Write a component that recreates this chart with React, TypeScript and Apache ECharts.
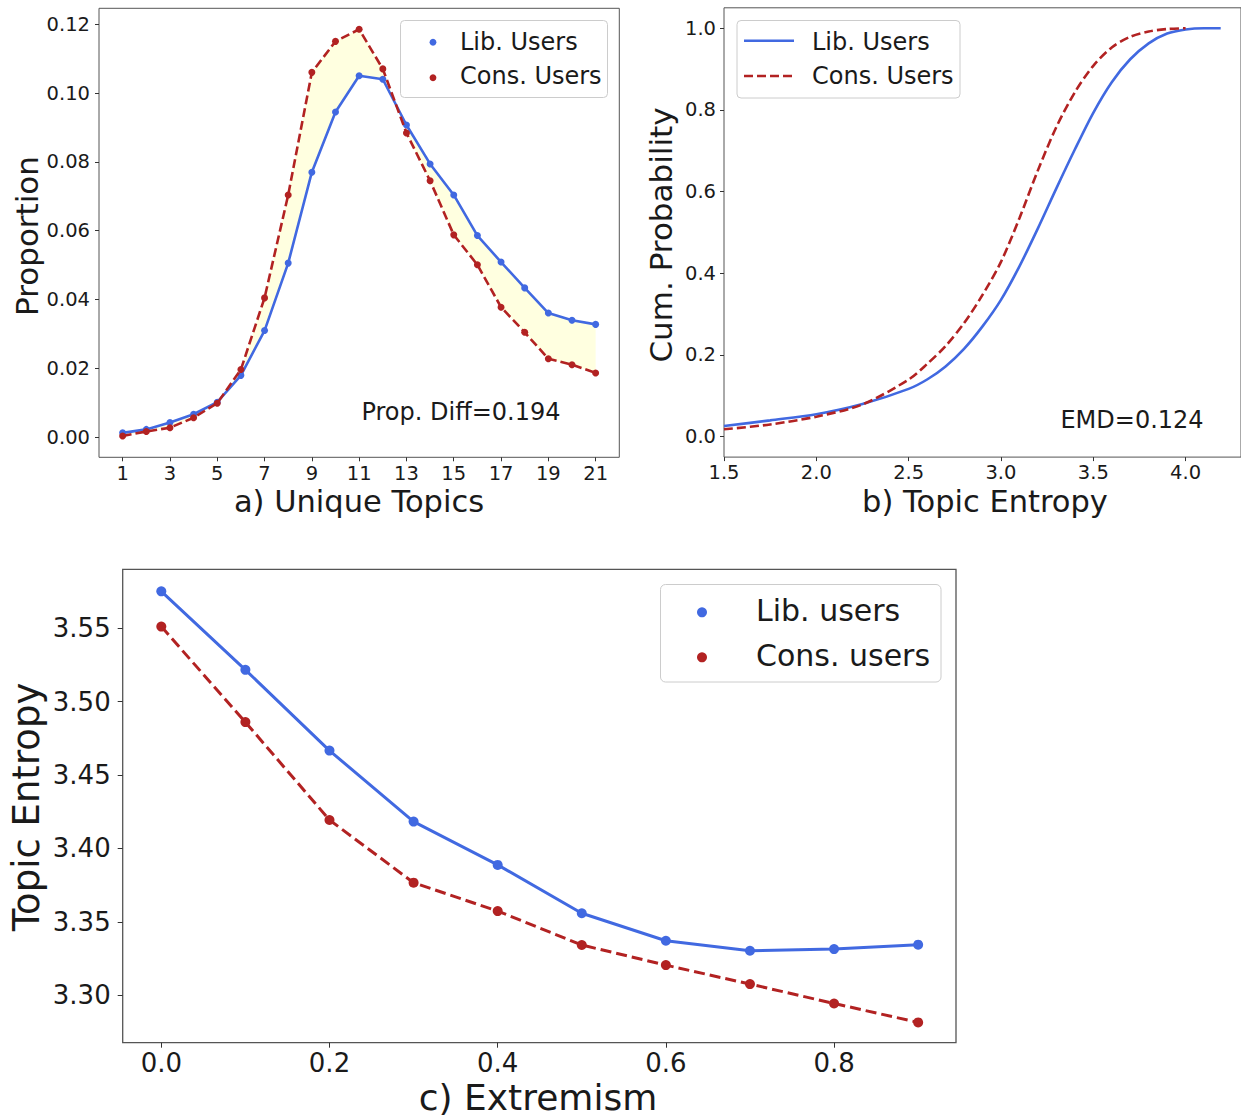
import React, { useEffect, useRef } from "react";
import * as echarts from "echarts";

// ---------- data ----------
const topicsX = [1, 2, 3, 4, 5, 6, 7, 8, 9, 10, 11, 12, 13, 14, 15, 16, 17, 18, 19, 20, 21];
const libUnique = [0.0013, 0.0023, 0.0043, 0.0067, 0.0102, 0.018, 0.031, 0.0506, 0.077, 0.0945, 0.105, 0.104, 0.0907, 0.0794, 0.0704, 0.0586, 0.0509, 0.0434, 0.0361, 0.034, 0.0328];
const consUnique = [0.0004, 0.0017, 0.0028, 0.0057, 0.0099, 0.0197, 0.0405, 0.0704, 0.106, 0.115, 0.1185, 0.107, 0.0884, 0.0745, 0.0588, 0.0501, 0.0378, 0.0305, 0.0228, 0.0211, 0.0187];

const libEntropyX = [1.5, 1.75, 2.0, 2.25, 2.5, 2.6, 2.7, 2.8, 2.9, 3.0, 3.1, 3.2, 3.3, 3.4, 3.5, 3.6, 3.7, 3.8, 3.9, 4.0, 4.1, 4.19];
const libCdf = [0.026, 0.04, 0.055, 0.08, 0.117, 0.14, 0.172, 0.215, 0.27, 0.335, 0.417, 0.51, 0.608, 0.703, 0.793, 0.868, 0.924, 0.963, 0.987, 0.997, 1.0, 1.0];
const consEntropyX = [1.5, 1.75, 2.0, 2.25, 2.5, 2.6, 2.7, 2.8, 2.9, 3.0, 3.1, 3.2, 3.3, 3.4, 3.5, 3.6, 3.7, 3.8, 3.9, 4.0];
const consCdf = [0.018, 0.03, 0.049, 0.079, 0.14, 0.178, 0.222, 0.278, 0.347, 0.428, 0.535, 0.652, 0.758, 0.843, 0.908, 0.953, 0.979, 0.992, 0.998, 1.0];

const extremism = [0.0, 0.1, 0.2, 0.3, 0.4, 0.5, 0.6, 0.7, 0.8, 0.9];
const libEntropy = [3.575, 3.5216, 3.4666, 3.4183, 3.3888, 3.3559, 3.3372, 3.3304, 3.3315, 3.3345];
const consEntropy = [3.551, 3.486, 3.4194, 3.3767, 3.3574, 3.3343, 3.3206, 3.3077, 3.2945, 3.2816];

const xTicksA = [1, 3, 5, 7, 9, 11, 13, 15, 17, 19, 21];
const yTicksA = [0, 0.02, 0.04, 0.06, 0.08, 0.1, 0.12];
const xTicksB = [1.5, 2.0, 2.5, 3.0, 3.5, 4.0];
const yTicksB = [0, 0.2, 0.4, 0.6, 0.8, 1.0];
const xTicksC = [0, 0.2, 0.4, 0.6, 0.8];
const yTicksC = [3.3, 3.35, 3.4, 3.45, 3.5, 3.55];

// ---------- style ----------
const FONT = '"DejaVu Sans", sans-serif';
const BLUE = "#4169E1";
const RED = "#B22222";
const INK = "#1a1a1a";
const FRAME = "#555555";

const zip = (xs: number[], ys: number[]) => xs.map((x, i) => [x, ys[i]]);

function valueAxis(
  gridIndex: number,
  min: number,
  max: number,
  ticks: number[],
  digits: number,
  fontSize: number,
  margin: number,
  tickLen: number
) {
  return {
    type: "value",
    gridIndex,
    min,
    max,
    splitLine: { show: false },
    axisLine: { show: false, onZero: false },
    axisTick: {
      show: true,
      customValues: ticks,
      length: tickLen,
      lineStyle: { color: "#333", width: 1 },
    },
    axisLabel: {
      show: true,
      customValues: ticks,
      formatter: (v: number) => v.toFixed(digits),
      fontFamily: FONT,
      fontSize,
      lineHeight: fontSize,
      color: INK,
      margin,
    },
  };
}

function text(
  str: string,
  x: number,
  y: number,
  fontSize: number,
  align: string = "center",
  rotation = 0
) {
  return {
    type: "text",
    x,
    y,
    rotation,
    z: 100,
    style: {
      text: str,
      fontFamily: FONT,
      fontSize,
      lineHeight: fontSize,
      fill: INK,
      align,
      verticalAlign: "middle",
    },
  };
}

export default function App() {
  const ref = useRef<HTMLDivElement>(null);

  useEffect(() => {
    if (!ref.current) return;
    const chart = echarts.init(ref.current, null, { renderer: "svg" });

    const gridA = { left: 99, top: 8.3, width: 520.3, height: 449 };
    const gridB = { left: 724, top: 7.8, width: 522.5, height: 449.3 };
    const gridC = { left: 122.7, top: 569.3, width: 833.3, height: 473.4 };

    const option: any = {
      animation: false,
      backgroundColor: "#ffffff",
      grid: [
        { ...gridA, show: true, borderColor: FRAME, borderWidth: 1, backgroundColor: "transparent" },
        { ...gridB, show: true, borderColor: FRAME, borderWidth: 1, backgroundColor: "transparent" },
        { ...gridC, show: true, borderColor: FRAME, borderWidth: 1.3, backgroundColor: "transparent" },
      ],
      xAxis: [
        valueAxis(0, 0, 22, xTicksA, 0, 19.5, 6, 4),
        valueAxis(1, 1.5, 4.3, xTicksB, 1, 19.5, 6, 4),
        valueAxis(2, -0.0459, 0.945, xTicksC, 1, 26, 7, 5),
      ],
      yAxis: [
        valueAxis(0, -0.0058, 0.1246, yTicksA, 2, 19.5, 9, 4),
        valueAxis(1, -0.05, 1.05, yTicksB, 1, 19.5, 8, 4),
        valueAxis(2, 3.2678, 3.59, yTicksC, 2, 26, 12, 5),
      ],
      series: [
        {
          type: "custom",
          name: "diff-fill",
          xAxisIndex: 0,
          yAxisIndex: 0,
          z: 1,
          silent: true,
          data: [[topicsX[0], libUnique[0]]],
          renderItem: (params: any, api: any) => {
            if (params.dataIndex !== 0) return null;
            const pts: number[][] = [];
            topicsX.forEach((x, i) => pts.push(api.coord([x, libUnique[i]])));
            for (let i = topicsX.length - 1; i >= 0; i--) {
              pts.push(api.coord([topicsX[i], consUnique[i]]));
            }
            return {
              type: "polygon",
              shape: { points: pts },
              style: { fill: "#ffffe0", stroke: "none" },
            };
          },
        },
        {
          type: "line",
          name: "Lib. Users",
          xAxisIndex: 0,
          yAxisIndex: 0,
          z: 3,
          data: zip(topicsX, libUnique),
          symbol: "circle",
          symbolSize: 7,
          showSymbol: true,
          lineStyle: { color: BLUE, width: 2.6 },
          itemStyle: { color: BLUE },
        },
        {
          type: "line",
          name: "Cons. Users",
          xAxisIndex: 0,
          yAxisIndex: 0,
          z: 4,
          data: zip(topicsX, consUnique),
          symbol: "circle",
          symbolSize: 7,
          showSymbol: true,
          lineStyle: { color: RED, width: 2.6, type: [9, 4] },
          itemStyle: { color: RED },
        },
        {
          type: "line",
          name: "Lib. Users CDF",
          xAxisIndex: 1,
          yAxisIndex: 1,
          z: 3,
          data: zip(libEntropyX, libCdf),
          showSymbol: false,
          symbol: "none",
          smooth: 0.3,
          lineStyle: { color: BLUE, width: 2.6 },
        },
        {
          type: "line",
          name: "Cons. Users CDF",
          xAxisIndex: 1,
          yAxisIndex: 1,
          z: 4,
          data: zip(consEntropyX, consCdf),
          showSymbol: false,
          symbol: "none",
          smooth: 0.3,
          lineStyle: { color: RED, width: 2.6, type: [9, 4] },
        },
        {
          type: "line",
          name: "Lib. users",
          xAxisIndex: 2,
          yAxisIndex: 2,
          z: 3,
          data: zip(extremism, libEntropy),
          symbol: "circle",
          symbolSize: 10,
          showSymbol: true,
          lineStyle: { color: BLUE, width: 3 },
          itemStyle: { color: BLUE },
        },
        {
          type: "line",
          name: "Cons. users",
          xAxisIndex: 2,
          yAxisIndex: 2,
          z: 4,
          data: zip(extremism, consEntropy),
          symbol: "circle",
          symbolSize: 10,
          showSymbol: true,
          lineStyle: { color: RED, width: 3, type: [11, 5] },
          itemStyle: { color: RED },
        },
      ],
      graphic: {
        elements: [
          // axis titles
          text("a) Unique Topics", 359, 501, 30.5),
          text("Proportion", 26.5, 236, 31, "center", Math.PI / 2),
          text("b) Topic Entropy", 985, 501, 30.5),
          text("Cum. Probability", 660.5, 235, 31, "center", Math.PI / 2),
          text("c) Extremism", 538, 1097, 36),
          text("Topic Entropy", 26, 807, 37, "center", Math.PI / 2),
          // annotations
          text("Prop. Diff=0.194", 461, 412, 24),
          text("EMD=0.124", 1132, 420, 24),
          // legend a
          {
            type: "rect",
            z: 90,
            shape: { x: 400.5, y: 20.5, width: 207, height: 77, r: 4 },
            style: { fill: "rgba(255,255,255,0.8)", stroke: "#cccccc", lineWidth: 1 },
          },
          { type: "circle", z: 95, shape: { cx: 433, cy: 42.3, r: 3.4 }, style: { fill: BLUE } },
          { type: "circle", z: 95, shape: { cx: 433, cy: 77.7, r: 3.4 }, style: { fill: RED } },
          text("Lib. Users", 460, 41.5, 24, "left"),
          text("Cons. Users", 460, 75.5, 24, "left"),
          // legend b
          {
            type: "rect",
            z: 90,
            shape: { x: 737, y: 20.5, width: 223, height: 77.5, r: 4 },
            style: { fill: "rgba(255,255,255,0.8)", stroke: "#cccccc", lineWidth: 1 },
          },
          {
            type: "line",
            z: 95,
            shape: { x1: 744, y1: 40.7, x2: 794, y2: 40.7 },
            style: { stroke: BLUE, lineWidth: 2.6 },
          },
          {
            type: "line",
            z: 95,
            shape: { x1: 744, y1: 76, x2: 794, y2: 76 },
            style: { stroke: RED, lineWidth: 2.6, lineDash: [9, 4] },
          },
          text("Lib. Users", 812, 41.5, 24, "left"),
          text("Cons. Users", 812, 75.5, 24, "left"),
          // legend c
          {
            type: "rect",
            z: 90,
            shape: { x: 660.5, y: 584.5, width: 280.5, height: 97.5, r: 5 },
            style: { fill: "rgba(255,255,255,0.8)", stroke: "#cccccc", lineWidth: 1 },
          },
          { type: "circle", z: 95, shape: { cx: 702, cy: 612.3, r: 5 }, style: { fill: BLUE } },
          { type: "circle", z: 95, shape: { cx: 702, cy: 657.3, r: 5 }, style: { fill: RED } },
          text("Lib. users", 756, 610.5, 30, "left"),
          text("Cons. users", 756, 655.5, 30, "left"),
        ],
      },
    };

    chart.setOption(option);
    return () => chart.dispose();
  }, []);

  return (
    <div
      ref={ref}
      style={{
        position: "fixed",
        left: 0,
        top: 0,
        width: 1241,
        height: 1116,
        background: "#ffffff",
      }}
    />
  );
}
